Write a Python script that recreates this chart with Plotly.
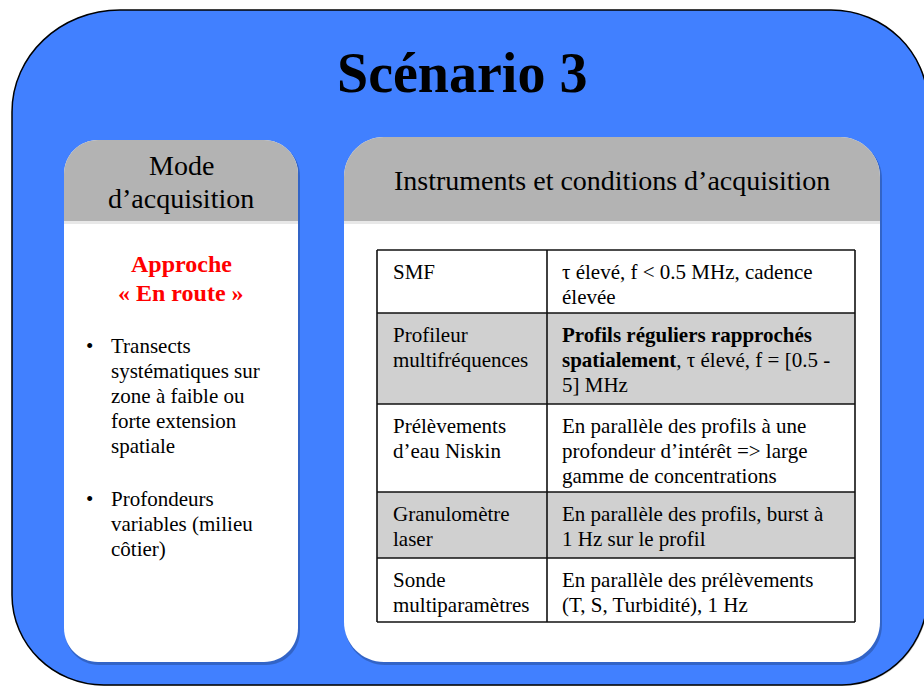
import plotly.graph_objects as go

# ---------------- content ----------------
title = "Scénario 3"
left_header = ["Mode", "d’acquisition"]
approach = ["Approche", "« En route »"]
bullets = [
    ["Transects", "systématiques sur", "zone à faible ou", "forte extension", "spatiale"],
    ["Profondeurs", "variables (milieu", "côtier)"],
]
right_header = "Instruments et conditions d’acquisition"
instruments = [
    ["SMF"],
    ["Profileur", "multifréquences"],
    ["Prélèvements", "d’eau Niskin"],
    ["Granulomètre", "laser"],
    ["Sonde", "multiparamètres"],
]
conditions = [
    ["τ élevé, f &lt; 0.5 MHz, cadence", "élevée"],
    ["<b>Profils réguliers rapprochés</b>", "<b>spatialement</b>, τ élevé, f = [0.5 -", "5] MHz"],
    ["En parallèle des profils à une", "profondeur d’intérêt => large", "gamme de concentrations"],
    ["En parallèle des profils, burst à", "1 Hz sur le profil"],
    ["En parallèle des prélèvements", "(T, S, Turbidité), 1 Hz"],
]
row_shaded = [False, True, False, True, False]

# ---------------- style ----------------
W, H = 924, 686
SERIF = "Liberation Serif, Times New Roman, serif"
BLUE = "#4180FF"
HEAD_GRAY = "#B3B3B3"
ROW_GRAY = "#D0D0D0"
K = 0.5523


def rrect(x0, y0, x1, y1, tl, tr, br, bl):
    """rounded rect path in data coords (y grows downward); corners given as (rx, ry)"""
    p = f"M {x0 + tl[0]},{y0} L {x1 - tr[0]},{y0} "
    if tr[0]:
        p += (f"C {x1 - tr[0] + K * tr[0]},{y0} {x1},{y0 + tr[1] - K * tr[1]} {x1},{y0 + tr[1]} ")
    p += f"L {x1},{y1 - br[1]} "
    if br[0]:
        p += (f"C {x1},{y1 - br[1] + K * br[1]} {x1 - br[0] + K * br[0]},{y1} {x1 - br[0]},{y1} ")
    p += f"L {x0 + bl[0]},{y1} "
    if bl[0]:
        p += (f"C {x0 + bl[0] - K * bl[0]},{y1} {x0},{y1 - bl[1] + K * bl[1]} {x0},{y1 - bl[1]} ")
    p += f"L {x0},{y0 + tl[1]} "
    if tl[0]:
        p += (f"C {x0},{y0 + tl[1] - K * tl[1]} {x0 + tl[0] - K * tl[0]},{y0} {x0 + tl[0]},{y0} ")
    return p + "Z"


shapes = []
annotations = []


def add_path(path, fill, line_color=None, line_width=0, layer="above"):
    shapes.append(dict(type="path", path=path, xref="x", yref="y", fillcolor=fill,
                       line=dict(color=line_color or "rgba(0,0,0,0)", width=line_width), layer=layer))


def text(x, y, s, size, color="black", anchor="left", bold=False):
    if bold:
        s = f"<b>{s}</b>"
    annotations.append(dict(x=x, y=y, xref="x", yref="y", text=s, showarrow=False,
                            xanchor=anchor, yanchor="middle",
                            font=dict(family=SERIF, size=size, color=color)))


# outer blue panel (slight shadow + outlined body)
add_path(rrect(13, 11, 929, 686, (108, 102), (97, 95), (86, 92), (92, 90)), "rgba(0,0,0,0.18)")
add_path(rrect(12, 10, 928, 685, (108, 102), (97, 95), (86, 92), (92, 90)), BLUE, "black", 1.5)

# panels (shadow, white body, gray header)
panels = [(64, 140, 298, 662, 34), (344, 137, 880, 662, 40)]
header_bottom = 221
for (x0, y0, x1, y1, r) in panels:
    add_path(rrect(x0 + 1, y0 + 2, x1 + 2, y1 + 3, (r, r), (r, r), (r, r), (r, r)), "rgba(0,0,0,0.22)")
    add_path(rrect(x0, y0, x1, y1, (r, r), (r, r), (r, r), (r, r)), "white")
    add_path(rrect(x0, header_bottom - 2, x1, header_bottom + 3, (0, 0), (0, 0), (0, 0), (0, 0)),
             "rgba(0,0,0,0.09)")
    add_path(rrect(x0, y0, x1, header_bottom, (r, r), (r, r), (0, 0), (0, 0)), HEAD_GRAY)

# title
text(462, 73, title, 56, anchor="center", bold=True)

# left panel text
for i, s in enumerate(left_header):
    text(181, 165 + 33 * i, s, 28, anchor="center")
for i, s in enumerate(approach):
    text(181, 264 + 29 * i, s, 24, color="#FF0000", anchor="center", bold=True)
by = 346
for group in bullets:
    text(84, by, "•", 21)
    for j, s in enumerate(group):
        text(109, by + 25 * j, s, 21)
    by += 25 * len(group) + 28

# right panel header
text(612, 180, right_header, 28, anchor="center")

# table
tx0, tx1, tcol = 377, 855, 547
row_edges = [250, 313, 404, 492, 558, 622]
for i, shaded in enumerate(row_shaded):
    y0, y1 = row_edges[i], row_edges[i + 1]
    shapes.append(dict(type="rect", x0=tx0, x1=tx1, y0=y0, y1=y1, xref="x", yref="y",
                       fillcolor=ROW_GRAY if shaded else "white", line=dict(width=0)))
    for j, s in enumerate(instruments[i]):
        text(391, y0 + 22 + 25 * j, s, 21)
    for j, s in enumerate(conditions[i]):
        text(560, y0 + 22 + 25 * j, s, 21)
for y in row_edges:
    shapes.append(dict(type="line", x0=tx0, x1=tx1, y0=y, y1=y, xref="x", yref="y",
                       line=dict(color="#111", width=1.6)))
for x in (tx0, tcol, tx1):
    shapes.append(dict(type="line", x0=x, x1=x, y0=row_edges[0], y1=row_edges[-1], xref="x", yref="y",
                       line=dict(color="#111", width=1.6)))

fig = go.Figure()
fig.update_layout(
    width=W, height=H, margin=dict(l=0, r=0, t=0, b=0),
    paper_bgcolor="white", plot_bgcolor="white",
    xaxis=dict(range=[0, W], visible=False, fixedrange=True),
    yaxis=dict(range=[H, 0], visible=False, fixedrange=True),
    shapes=shapes, annotations=annotations, showlegend=False,
)
fig.write_html(
    "out.html",
    config=dict(displayModeBar=False),
    post_script=("document.documentElement.style.margin='0';document.body.style.margin='0';"
                 "document.documentElement.style.overflow='hidden';document.body.style.overflow='hidden';"),
)
